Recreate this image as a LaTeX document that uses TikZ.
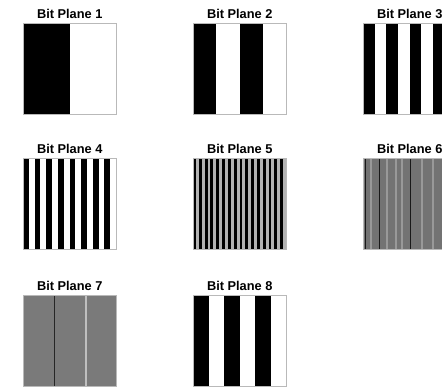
\documentclass[tikz,border=0pt]{standalone}
\usepackage{fontspec}
\setmainfont{Liberation Sans}
\usetikzlibrary{positioning}
\tikzset{
  plane/.style={draw=gray!55, line width=0.5pt, minimum width=93pt, minimum height=91pt, inner sep=0pt, anchor=north west},
  planetitle/.style={font=\bfseries\fontsize{12.8}{13}\selectfont, anchor=base, inner sep=0pt},
}
\begin{document}
\begin{tikzpicture}[x=1pt,y=-1pt]
  \clip (0,0) rectangle (442,387);%

  % planes 5, 6 and 7 are too fine to resolve: grey ground
  \fill[black!30] (193,158) rectangle ++(93,91);%
  \fill[black!55] (363,158) rectangle ++(93,91);%
  \fill[black!52] (23,295) rectangle ++(93,91);%

  % black stripes: n stripes per plane, starting black at the left
  \foreach \n/\x/\y in {2/23/23, 4/193/23, 8/363/23, 16/23/158, 32/193/158, 6/193/295} {
    \pgfmathsetmacro\w{93/\n}
    \pgfmathtruncatemacro\m{\n/2-1}
    \foreach \i in {0,...,\m}
      \fill (\x+2*\i*\w,\y) rectangle ++(\w,91);
  }

  % aliasing lines left in the grey planes
  \foreach \x in {370,386,395,401,421,432}
    \fill[black!40] (\x,158) rectangle ++(1.5,91);
  \foreach \x in {365,379,410}
    \fill[black!90] (\x,158) rectangle ++(1.2,91);
  \fill[black!85] (53.5,295) rectangle ++(1.2,91);%
  \fill[black!25] (85,295) rectangle ++(1.5,91);%

  \node[plane] (P1) at (23,23) {};%
  \node[plane] (P2) at (193,23) {};%
  \node[plane] (P3) at (363,23) {};%
  \node[plane] (P4) at (23,158) {};%
  \node[plane] (P5) at (193,158) {};%
  \node[plane] (P6) at (363,158) {};%
  \node[plane] (P7) at (23,295) {};%
  \node[plane] (P8) at (193,295) {};%

  \node[planetitle] (T1) at ([yshift=4pt]P1.north) {Bit Plane 1};%
  \node[planetitle] (T2) at ([yshift=4pt]P2.north) {Bit Plane 2};%
  \node[planetitle] (T3) at ([yshift=4pt]P3.north) {Bit Plane 3};%
  \node[planetitle] (T4) at ([yshift=4pt]P4.north) {Bit Plane 4};%
  \node[planetitle] (T5) at ([yshift=4pt]P5.north) {Bit Plane 5};%
  \node[planetitle] (T6) at ([yshift=4pt]P6.north) {Bit Plane 6};%
  \node[planetitle] (T7) at ([yshift=4pt]P7.north) {Bit Plane 7};%
  \node[planetitle] (T8) at ([yshift=4pt]P8.north) {Bit Plane 8};%
\end{tikzpicture}
\end{document}
